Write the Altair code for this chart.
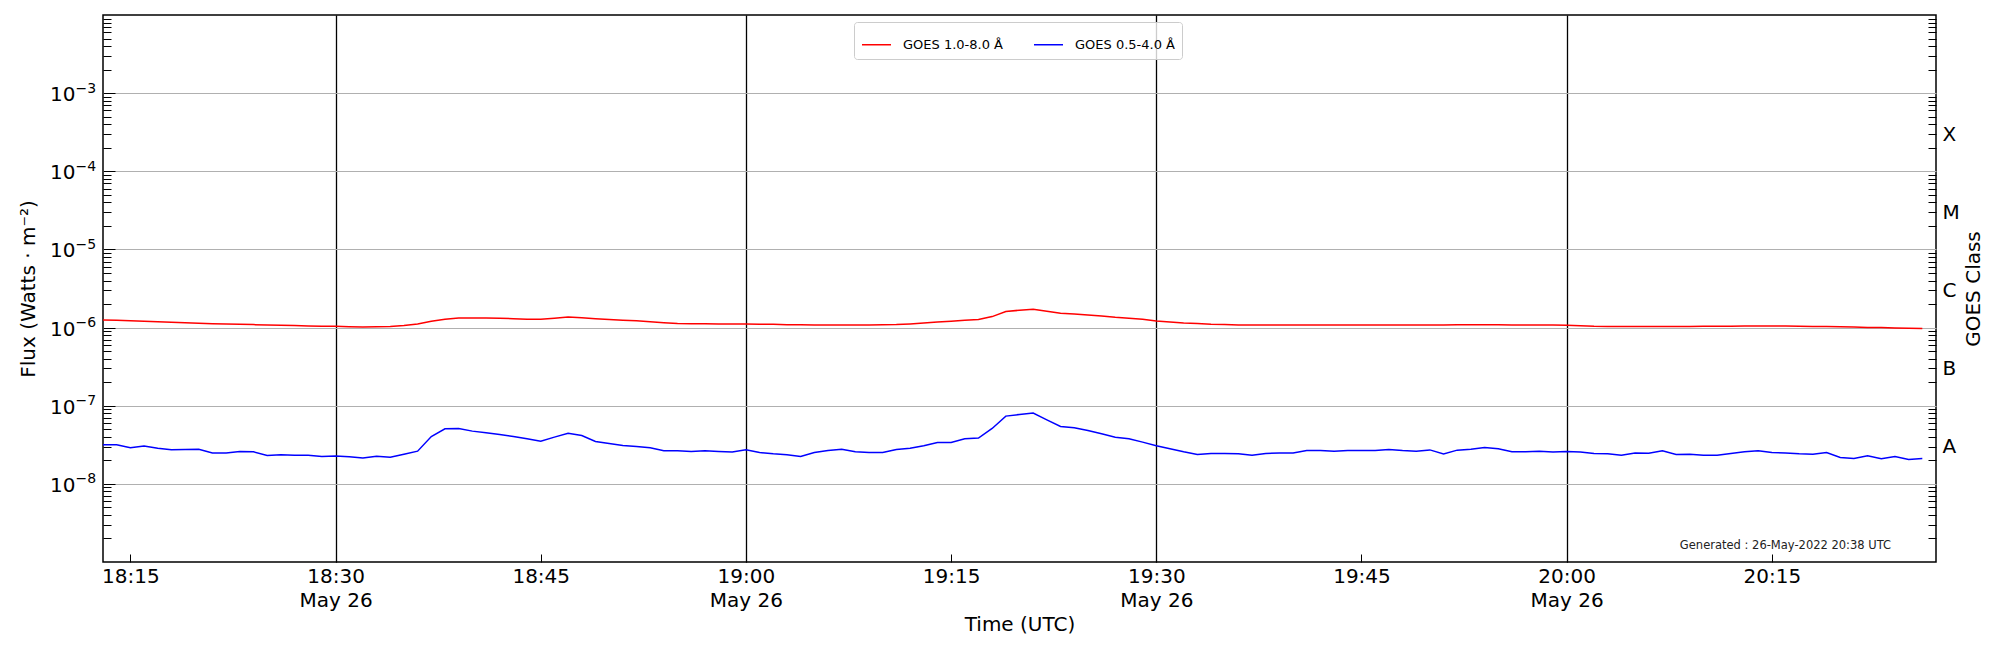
import altair as alt
import pandas as pd

# ---------------- data ----------------
series_names = ["GOES 1.0-8.0 Å", "GOES 0.5-4.0 Å"]
series_colors = ["#ff0000", "#0000ff"]

# one sample per minute, starting 2022-05-26 18:13 UTC
start_time = "2022-05-26 18:13"

# 1.0-8.0 Å flux, units of 1e-6 W m^-2
long_flux_e6 = [
    1.253, 1.237, 1.221, 1.206, 1.190, 1.174, 1.156, 1.138, 1.119, 1.107,
    1.099, 1.091, 1.081, 1.070, 1.060, 1.051, 1.043, 1.037, 1.027, 1.019,
    1.024, 1.034, 1.060, 1.113, 1.204, 1.278, 1.323, 1.330, 1.330, 1.320,
    1.300, 1.280, 1.280, 1.320, 1.370, 1.340, 1.300, 1.270, 1.240, 1.220,
    1.190, 1.155, 1.130, 1.120, 1.120, 1.110, 1.110, 1.110, 1.100, 1.100,
    1.090, 1.090, 1.080, 1.080, 1.076, 1.081, 1.081, 1.086, 1.091, 1.113,
    1.141, 1.175, 1.204, 1.240, 1.265, 1.382, 1.602, 1.667, 1.717, 1.618,
    1.525, 1.496, 1.452, 1.410, 1.355, 1.316, 1.278, 1.216, 1.181, 1.147,
    1.124, 1.102, 1.091, 1.081, 1.076, 1.076, 1.076, 1.076, 1.076, 1.076,
    1.081, 1.081, 1.081, 1.081, 1.081, 1.081, 1.081, 1.081, 1.081, 1.086,
    1.086, 1.086, 1.086, 1.081, 1.076, 1.076, 1.076, 1.070, 1.054, 1.039,
    1.034, 1.029, 1.029, 1.029, 1.029, 1.031, 1.034, 1.039, 1.039, 1.039,
    1.044, 1.049, 1.049, 1.044, 1.039, 1.034, 1.029, 1.024, 1.014, 1.004,
    0.999, 0.989, 0.979, 0.970,
]

# 0.5-4.0 Å flux, units of 1e-8 W m^-2
short_flux_e8 = [
    3.16, 3.16, 2.89, 3.04, 2.86, 2.73, 2.75, 2.78, 2.49, 2.49,
    2.59, 2.57, 2.31, 2.35, 2.33, 2.33, 2.24, 2.28, 2.22, 2.15,
    2.26, 2.19, 2.40, 2.62, 4.04, 5.07, 5.11, 4.73, 4.50, 4.28,
    4.04, 3.77, 3.52, 3.96, 4.45, 4.16, 3.49, 3.29, 3.10, 3.01,
    2.89, 2.65, 2.65, 2.60, 2.65, 2.60, 2.55, 2.73, 2.52, 2.42,
    2.35, 2.24, 2.52, 2.67, 2.78, 2.57, 2.52, 2.52, 2.75, 2.86,
    3.07, 3.39, 3.39, 3.77, 3.85, 5.12, 7.36, 7.73, 8.04, 6.60,
    5.42, 5.21, 4.82, 4.37, 3.96, 3.77, 3.42, 3.07, 2.81, 2.57,
    2.38, 2.45, 2.45, 2.42, 2.33, 2.45, 2.49, 2.49, 2.67, 2.67,
    2.62, 2.67, 2.67, 2.67, 2.75, 2.67, 2.62, 2.72, 2.42, 2.70,
    2.78, 2.92, 2.81, 2.57, 2.57, 2.62, 2.55, 2.60, 2.55, 2.45,
    2.42, 2.33, 2.49, 2.47, 2.65, 2.38, 2.40, 2.33, 2.33, 2.45,
    2.57, 2.65, 2.52, 2.49, 2.42, 2.40, 2.52, 2.17, 2.11, 2.28,
    2.09, 2.24, 2.05, 2.11,
]

# axis ticks / labels
y_decades = [1e-8, 1e-7, 1e-6, 1e-5, 1e-4, 1e-3]
y_decade_base = "10"
y_decade_exps = ["−8", "−7", "−6", "−5", "−4", "−3"]
minor_mantissas = [2, 3, 4, 5, 6, 7, 8, 9]
minor_exponents = [-9, -8, -7, -6, -5, -4, -3]
class_ticks = [3e-8, 3e-7, 3e-6, 3e-5, 3e-4]
class_labels = ["A", "B", "C", "M", "X"]
x_tick_hm = [(18, 15), (18, 30), (18, 45), (19, 0), (19, 15), (19, 30),
             (19, 45), (20, 0), (20, 15)]
x_grid_hm = [(18, 30), (19, 0), (19, 30), (20, 0)]
x_domain_hm = [(18, 13), (20, 27)]
y_domain = [1e-9, 1e-2]

generated_text = ["Generated : 26-May-2022 20:38 UTC"]
generated_time = ["2022-05-26T20:23:43"]
generated_flux = [1.48e-9]

# ---------------- build tables ----------------
n = len(long_flux_e6)
times = pd.date_range(start_time, periods=n, freq="min").strftime("%Y-%m-%dT%H:%M:%S")
df = pd.concat([
    pd.DataFrame({"time": times, "flux": [v * 1e-6 for v in long_flux_e6],
                  "series": series_names[0]}),
    pd.DataFrame({"time": times[:len(short_flux_e8)],
                  "flux": [v * 1e-8 for v in short_flux_e8],
                  "series": series_names[1]}),
], ignore_index=True)

gen_df = pd.DataFrame({"time": generated_time, "flux": generated_flux,
                       "label": generated_text})


def dt(hm):
    return alt.DateTime(year=2022, month=5, date=26, hours=hm[0], minutes=hm[1])


x_ticks = [dt(hm) for hm in x_tick_hm]
x_grid = [dt(hm) for hm in x_grid_hm]
minor_vals = [m * 10.0 ** e for e in minor_exponents for m in minor_mantissas]

xscale = alt.Scale(domain=[dt(hm) for hm in x_domain_hm], nice=False)
yscale = alt.Scale(type="log", domain=y_domain, nice=False)

W, H = 1833, 547
FONT = "DejaVu Sans"

exp_expr = "[" + ",".join("'%s'" % s for s in y_decade_exps) + "][round(log(datum.value)/LN10) + 8]"
class_expr = "[" + ",".join("'%s'" % s for s in class_labels) + "][round(log(datum.value/3)/LN10) + 8]"
x_expr = ("minutes(datum.value) % 30 == 0 ? "
          "[timeFormat(datum.value, '%H:%M'), timeFormat(datum.value, '%b %d')] : "
          "timeFormat(datum.value, '%H:%M')")

common = dict(domain=False, labelColor="black", tickColor="black", titleColor="black")

ax_x_labels = alt.Axis(orient="bottom", values=x_ticks, labelExpr=x_expr, ticks=False,
                       tickSize=0, grid=False, labelFontSize=20, labelPadding=4,
                       labelLineHeight=24, labelOverlap=False, labelFlush=False,
                       labelFont=FONT,
                       title="Time (UTC)", titleFontSize=20, titleFont=FONT,
                       titleFontWeight="normal", titleY=62, titleBaseline="middle", **common)
ax_x_grid = alt.Axis(orient="bottom", values=x_grid, grid=True, gridColor="black",
                     gridWidth=1.3, gridOpacity=1, labels=False, ticks=False, title=None, **common)
ax_x_ticks = alt.Axis(orient="bottom", values=x_ticks, offset=-8, tickSize=8, tickWidth=1,
                      labels=False, grid=False, title=None, **common)

# "10" part of the decade labels, with grid and the axis title
ax_y_base = alt.Axis(orient="left", values=y_decades, labelExpr="'%s'" % y_decade_base,
                     ticks=False, tickSize=0,
                     grid=True, gridColor="#b0b0b0", gridWidth=1, gridOpacity=1,
                     labelFontSize=20, labelPadding=28, labelFont=FONT, labelOverlap=False,
                     labelFlush=False, labelAlign="right", labelBaseline="middle",
                     labelOffset=1.5,
                     title="Flux (Watts · m⁻²)", titleFontSize=20, titleFont=FONT,
                     titleFontWeight="normal", titleAngle=270, titleX=-75, titleY=H / 2,
                     titleBaseline="middle", titleAlign="center", **common)
# superscript exponent part of the decade labels
ax_y_exp = alt.Axis(orient="left", values=y_decades, labelExpr=exp_expr,
                    ticks=False, tickSize=0, grid=False,
                    labelFontSize=14, labelPadding=28, labelFont=FONT, labelOverlap=False,
                    labelFlush=False, labelAlign="left", labelBaseline="middle",
                    labelOffset=-5, title=None, **common)
ax_y_major = alt.Axis(orient="left", values=y_decades, offset=-12, tickSize=12, tickWidth=1,
                      labels=False, grid=False, title=None, **common)
ax_y_minor = alt.Axis(orient="left", values=minor_vals, offset=-8, tickSize=8, tickWidth=1,
                      labels=False, grid=False, title=None, **common)
ax_r_labels = alt.Axis(orient="right", values=class_ticks, labelExpr=class_expr, ticks=False,
                       tickSize=0, grid=False, labelFontSize=20, labelPadding=6,
                       labelFont=FONT, labelOverlap=False, labelFlush=False,
                       labelBaseline="middle",
                       title="GOES Class", titleFontSize=20, titleFont=FONT,
                       titleFontWeight="normal", titleAngle=270, titleX=37, titleY=H / 2,
                       titleBaseline="middle", titleAlign="center", **common)
ax_r_minor = alt.Axis(orient="right", values=minor_vals, offset=-8, tickSize=8, tickWidth=1,
                      labels=False, grid=False, title=None, **common)

legend = alt.Legend(orient="none", legendX=751, legendY=7, direction="horizontal", title=None,
                    symbolType="stroke", symbolSize=841, symbolStrokeWidth=1.5,
                    labelFontSize=13, labelFont=FONT, labelColor="black", labelOffset=11,
                    columnPadding=28, padding=7, strokeColor="#cccccc",
                    fillColor="rgba(255,255,255,0.8)", cornerRadius=3)

base = alt.Chart(df)

lines = base.mark_line(strokeWidth=1.5, clip=True).encode(
    x=alt.X("time:T", scale=xscale, axis=ax_x_labels),
    y=alt.Y("flux:Q", scale=yscale, axis=ax_y_base),
    color=alt.Color("series:N", scale=alt.Scale(domain=series_names, range=series_colors),
                    legend=legend),
)


def ghost(xaxis, yaxis):
    return base.mark_line(opacity=0).encode(
        x=alt.X("time:T", scale=xscale, axis=xaxis),
        y=alt.Y("flux:Q", scale=yscale, axis=yaxis),
        detail="series:N",
    )


layers = [
    ghost(ax_x_grid, ax_y_exp),
    ghost(ax_x_ticks, ax_y_major),
    ghost(None, ax_y_minor),
    ghost(None, ax_r_labels),
    ghost(None, ax_r_minor),
    lines,
    alt.Chart(gen_df).mark_text(align="right", baseline="alphabetic", fontSize=11.5,
                                font=FONT, color="#222222").encode(
        x=alt.X("time:T", scale=xscale, axis=None),
        y=alt.Y("flux:Q", scale=yscale, axis=None),
        text="label:N",
    ),
]

chart = alt.layer(*layers).resolve_axis(x="independent", y="independent").properties(
    width=W, height=H,
    autosize=alt.AutoSizeParams(type="none"),
    padding={"left": 95, "top": 7, "right": 56, "bottom": 80},
).configure(font=FONT).configure_view(stroke="black", strokeWidth=1.5)

chart.save("out.html", embed_options={"renderer": "svg", "actions": False})
